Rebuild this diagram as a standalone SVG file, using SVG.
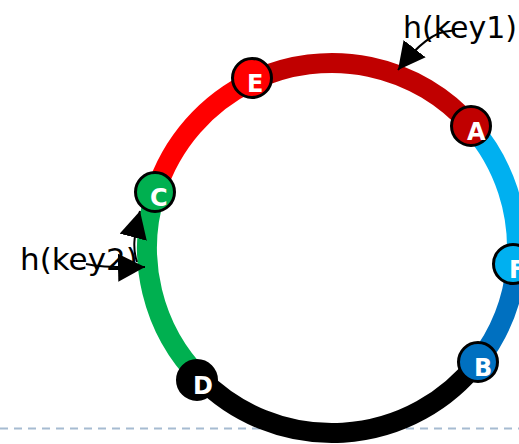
<svg xmlns="http://www.w3.org/2000/svg" width="519" height="444" viewBox="0 0 519 444">
<defs>
<style>
.ring{fill:none;stroke-width:20}
.node circle{stroke:#000;stroke-width:3}
.node text{font-family:"DejaVu Sans",sans-serif;font-weight:bold;font-size:24px;fill:#fff}
.lbl{font-family:"DejaVu Sans",sans-serif;font-size:31px;fill:#000}
.arrow{fill:none;stroke:#000;stroke-width:2;marker-end:url(#ah)}
</style>
<marker id="ah" markerUnits="userSpaceOnUse" markerWidth="28" markerHeight="28" refX="27" refY="14" orient="auto">
<path d="M0,0 L27,14 L0,28 z" fill="#000"/>
</marker>
</defs>
<rect width="519" height="444" fill="#fff"/>
<line x1="0" y1="428.5" x2="519" y2="428.5" stroke="#a6bbd1" stroke-width="2" stroke-dasharray="8 6"/>
<g id="ring">
<path class="ring" stroke="#c00000" d="M253.2,80.6 A185,185 0 0 1 471,125.9"/>
<path class="ring" stroke="#00b0f0" d="M471,125.9 A185,185 0 0 1 516.3,264.3"/>
<path class="ring" stroke="#0070c0" d="M516.3,264.3 A185,185 0 0 1 477.8,361.9"/>
<path class="ring" stroke="#000000" d="M477.8,361.9 A185,185 0 0 1 200.7,378.4"/>
<path class="ring" stroke="#00b050" d="M200.7,378.4 A185,185 0 0 1 155.7,192.1"/>
<path class="ring" stroke="#ff0000" d="M155.7,192.1 A185,185 0 0 1 253.2,80.6"/>
</g>
<g id="node-E" class="node"><circle cx="252" cy="78" r="19.5" fill="#ff0000"/><text x="247" y="91.5">E</text></g>
<g id="node-A" class="node"><circle cx="471" cy="126" r="19.5" fill="#c00000"/><text x="467" y="139.5">A</text></g>
<g id="node-F" class="node"><circle cx="513" cy="264" r="19.5" fill="#00b0f0"/><text x="509" y="277.5">F</text></g>
<g id="node-B" class="node"><circle cx="478" cy="362" r="19.5" fill="#0070c0"/><text x="474" y="375.5">B</text></g>
<g id="node-D" class="node"><circle cx="197" cy="380" r="19.5" fill="#000000"/><text x="193" y="393.5">D</text></g>
<g id="node-C" class="node"><circle cx="155" cy="192" r="19.5" fill="#00b050"/><text x="150" y="205.5">C</text></g>
<g id="labels">
<text class="lbl" x="403" y="38" style="font-size:30px">h(key1)</text>
<text class="lbl" x="20" y="270">h(key2)</text>
</g>
<g id="connectors">
<path class="arrow" d="M455,31 C435,29 416,47 398,70"/>
<path class="arrow" d="M137,262 C133,250 133,238 140,211"/>
<path class="arrow" d="M86,264 Q105,268 145,267"/>
</g>
</svg>
